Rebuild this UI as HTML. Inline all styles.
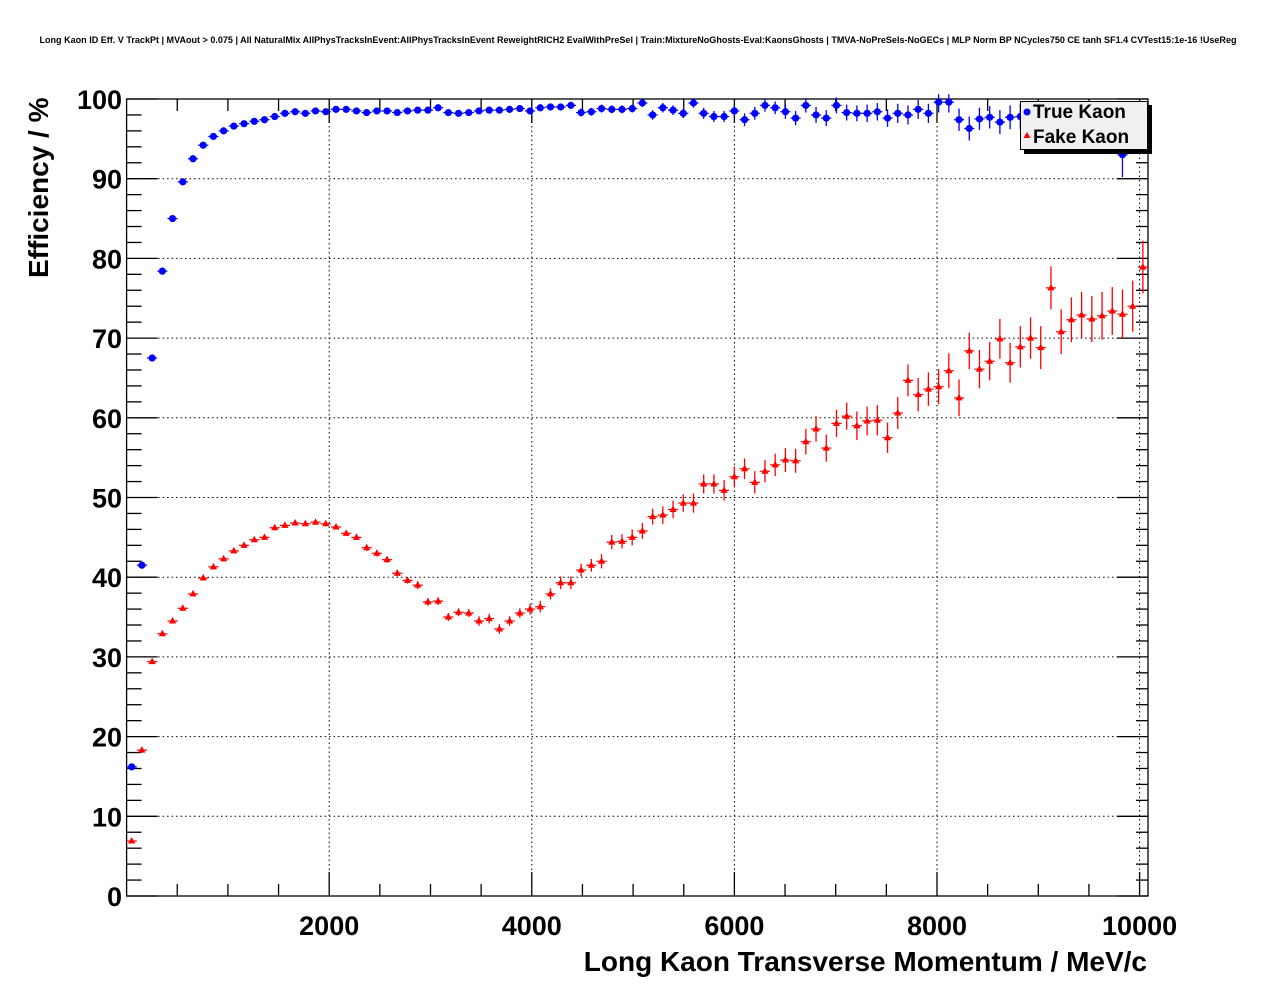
<!DOCTYPE html>
<html><head><meta charset="utf-8"><style>
html,body{margin:0;padding:0;background:#fff}
svg{display:block;font-family:"Liberation Sans",Arial,sans-serif}
</style></head><body>
<svg id="chart" width="1276" height="996" viewBox="0 0 1276 996" xmlns="http://www.w3.org/2000/svg">
<rect width="1276" height="996" fill="#fff"/>
<text x="638" y="43" font-size="9.1" font-weight="bold" text-anchor="middle" textLength="1197" lengthAdjust="spacingAndGlyphs">Long Kaon ID Eff. V TrackPt | MVAout &gt; 0.075 | All NaturalMix AllPhysTracksInEvent:AllPhysTracksInEvent ReweightRICH2 EvalWithPreSel | Train:MixtureNoGhosts-Eval:KaonsGhosts | TMVA-NoPreSels-NoGECs | MLP Norm BP NCycles750 CE tanh SF1.4 CVTest15:1e-16 !UseReg</text>
<g id="grid"></g>
<g id="axes"></g>
<g id="series"></g>
<text transform="translate(48,278) rotate(-90)" font-size="28" font-weight="bold" text-anchor="start">Efficiency / %</text>
<text x="1147" y="971" font-size="28" font-weight="bold" text-anchor="end">Long Kaon Transverse Momentum / MeV/c</text>
<g>
<rect x="1024" y="105" width="128" height="49" fill="#000"/>
<rect x="1020.5" y="101.5" width="127" height="48" fill="#f0f0f0" stroke="#000" stroke-width="1"/>
<circle cx="1027" cy="112" r="3.5" fill="#0000ff"/>
<text x="1033" y="118" font-size="19" font-weight="bold">True Kaon</text>
<path d="M1027,132 L1030.5,138 L1023.5,138 Z" fill="#ff0000"/>
<text x="1033" y="143" font-size="19" font-weight="bold">Fake Kaon</text>
</g>
</svg>
<script>
const trueKaon = [16.2,41.5,67.5,78.4,85.0,89.6,92.5,94.2,95.3,96.0,96.6,96.9,97.2,97.4,97.8,98.2,98.4,98.2,98.5,98.4,
98.7,98.7,98.5,98.3,98.5,98.5,98.3,98.5,98.6,98.6,98.9,98.3,98.2,98.3,98.5,98.6,98.6,98.7,98.8,98.5,
98.9,99.0,99.0,99.2,98.3,98.4,98.8,98.7,98.7,98.8,99.5,98.0,98.9,98.6,98.2,99.5,98.2,97.8,97.8,
98.5,97.4,98.2,99.2,98.9,98.4,97.6,99.2,98.0,97.6,99.2,98.3,98.2,98.2,98.4,97.6,98.2,98.0,98.7,98.2,
99.6,99.6,97.4,96.3,97.5,97.7,97.1,97.7,97.8,97.6,97.5,97.6,97.8,97.5,97.7,97.8,97.5,97.6,93.0,97.5,97.6];
const trueKaonErr = [0.4,0.4,0.4,0.4,0.3,0.3,0.3,0.3,0.3,0.3,0.3,0.3,0.3,0.3,0.3,0.3,0.3,0.3,0.3,0.3,
0.3,0.3,0.3,0.3,0.3,0.3,0.3,0.3,0.3,0.3,0.3,0.3,0.3,0.3,0.3,0.3,0.3,0.4,0.4,0.4,
0.4,0.4,0.4,0.4,0.5,0.5,0.5,0.5,0.5,0.5,0.5,0.6,0.6,0.6,0.6,0.6,0.7,0.7,0.7,
0.7,0.8,0.8,0.8,0.8,0.9,0.9,0.9,1.0,1.0,1.0,1.0,1.0,1.1,1.1,1.1,1.2,1.2,1.2,1.2,
1.3,1.3,1.4,1.5,1.4,1.4,1.5,1.5,1.6,1.6,1.8,1.8,1.6,1.7,1.7,1.8,1.8,1.8,2.8,1.9,2.0];
const fakeKaon = [6.9,18.3,29.4,32.9,34.5,36.1,37.9,39.9,41.3,42.3,43.3,44.0,44.7,45.0,46.2,46.5,46.8,46.7,46.9,46.7,
46.3,45.5,45.0,43.7,43.0,42.2,40.5,39.6,39.0,36.9,37.0,35.0,35.6,35.5,34.5,34.8,33.5,34.5,35.5,36.0,
36.3,37.9,39.3,39.3,40.9,41.5,42.0,44.4,44.5,45.0,45.8,47.6,47.8,48.5,49.3,49.3,51.7,51.7,50.9,52.6,
53.6,51.9,53.3,54.1,54.7,54.6,57.0,58.6,56.2,59.3,60.2,59.0,59.6,59.7,57.5,60.6,64.7,62.9,63.6,63.9,
65.9,62.5,68.4,66.1,67.1,69.9,66.9,68.9,70.0,68.8,76.3,70.8,72.3,72.9,72.4,72.8,73.4,73.0,74.0,78.9];
const fakeKaonErr = [0.3,0.3,0.3,0.3,0.3,0.3,0.3,0.3,0.3,0.3,0.3,0.3,0.3,0.3,0.3,0.3,0.3,0.3,0.3,0.3,
0.3,0.3,0.3,0.4,0.4,0.4,0.4,0.4,0.5,0.5,0.5,0.5,0.5,0.5,0.6,0.6,0.6,0.6,0.6,0.7,
0.7,0.7,0.8,0.8,0.8,0.8,0.9,0.9,0.9,1.0,1.0,1.0,1.1,1.1,1.1,1.2,1.2,1.2,1.3,1.3,
1.3,1.4,1.4,1.4,1.5,1.5,1.6,1.6,1.7,1.7,1.7,1.8,1.8,1.9,1.9,2.0,2.0,2.1,2.1,2.2,
2.2,2.3,2.3,2.4,2.4,2.5,2.5,2.6,2.6,2.7,2.7,2.8,2.8,2.9,2.9,3.0,3.0,3.1,3.2,3.3];
const xTickLabels = ["2000","4000","6000","8000","10000"];
const xTickValues = [2000,4000,6000,8000,10000];
const yTickValues = [0,10,20,30,40,50,60,70,80,90,100];

const NS="http://www.w3.org/2000/svg";
const X0=126.6,X1=1148,Y0=896,Y1=99,XMAX=10083,YMAX=100;
const sx=v=>X0+(v/XMAX)*(X1-X0);
const sy=v=>Y0-(v/YMAX)*(Y0-Y1);
function mk(tag,attrs,parent){const e=document.createElementNS(NS,tag);for(const k in attrs)e.setAttribute(k,attrs[k]);parent.appendChild(e);return e;}
const grid=document.getElementById('grid'),axes=document.getElementById('axes'),series=document.getElementById('series');

xTickValues.forEach(v=>{if(sx(v)<X1-1){const l=mk('line',{x1:sx(v),x2:sx(v),y1:Y1,y2:Y0,stroke:'#000','stroke-width':1,'stroke-dasharray':'1.5,3'},grid);

}});
yTickValues.forEach(v=>{if(v>0&&v<100){const l=mk('line',{x1:X0,x2:X1,y1:sy(v),y2:sy(v),stroke:'#000','stroke-width':1,'stroke-dasharray':'1.5,3'},grid);

}});

const fr=mk('rect',{x:X0,y:Y1,width:X1-X0,height:Y0-Y1,fill:'none',stroke:'#000','stroke-width':1.3},axes);



for(let v=500;v<XMAX;v+=500){const major=v%2000===0;const len=major?24:12;
mk('line',{x1:sx(v),x2:sx(v),y1:Y0,y2:Y0-len,stroke:'#000','stroke-width':1.3},axes);
mk('line',{x1:sx(v),x2:sx(v),y1:Y1,y2:Y1+len,stroke:'#000','stroke-width':1.3},axes);}
xTickValues.forEach((v,i)=>{const t=mk('text',{x:sx(v),y:935,'font-size':27,'font-weight':'bold','text-anchor':'middle'},axes);t.textContent=xTickLabels[i];

});
for(let v=0;v<=100;v+=2){const major=v%10===0;
mk('line',{x1:X0,x2:X0+(major?31:15),y1:sy(v),y2:sy(v),stroke:'#000','stroke-width':1.3},axes);
mk('line',{x1:X1,x2:X1-(major?31:12),y1:sy(v),y2:sy(v),stroke:'#000','stroke-width':1.3},axes);}
yTickValues.forEach(v=>{const t=mk('text',{x:122,y:sy(v)+10,'font-size':27,'font-weight':'bold','text-anchor':'end'},axes);t.textContent=String(v);

});

const bw=XMAX/100;
function draw(vals,errs,color,shape,name){
 vals.forEach((v,i)=>{const cx=sx((i+0.5)*bw),cy=sy(v);
  const g=mk('g',{},series);
  
  
  mk('line',{x1:sx(i*bw),x2:sx((i+1)*bw),y1:cy,y2:cy,stroke:color,'stroke-width':1.2},g);
  mk('line',{x1:cx,x2:cx,y1:sy(Math.min(100.6,v+errs[i])),y2:sy(v-errs[i]),stroke:color,'stroke-width':1.3},g);
  if(shape==='circle')mk('circle',{cx:cx,cy:cy,r:3.6,fill:color},g);
  else mk('path',{d:`M${cx},${cy-4} L${cx+3.6},${cy+2.5} L${cx-3.6},${cy+2.5} Z`,fill:color},g);
 });
}
draw(fakeKaon,fakeKaonErr,'#ff0000','tri','fake-kaon');
draw(trueKaon,trueKaonErr,'#0000ff','circle','true-kaon');
</script>
</body></html>
